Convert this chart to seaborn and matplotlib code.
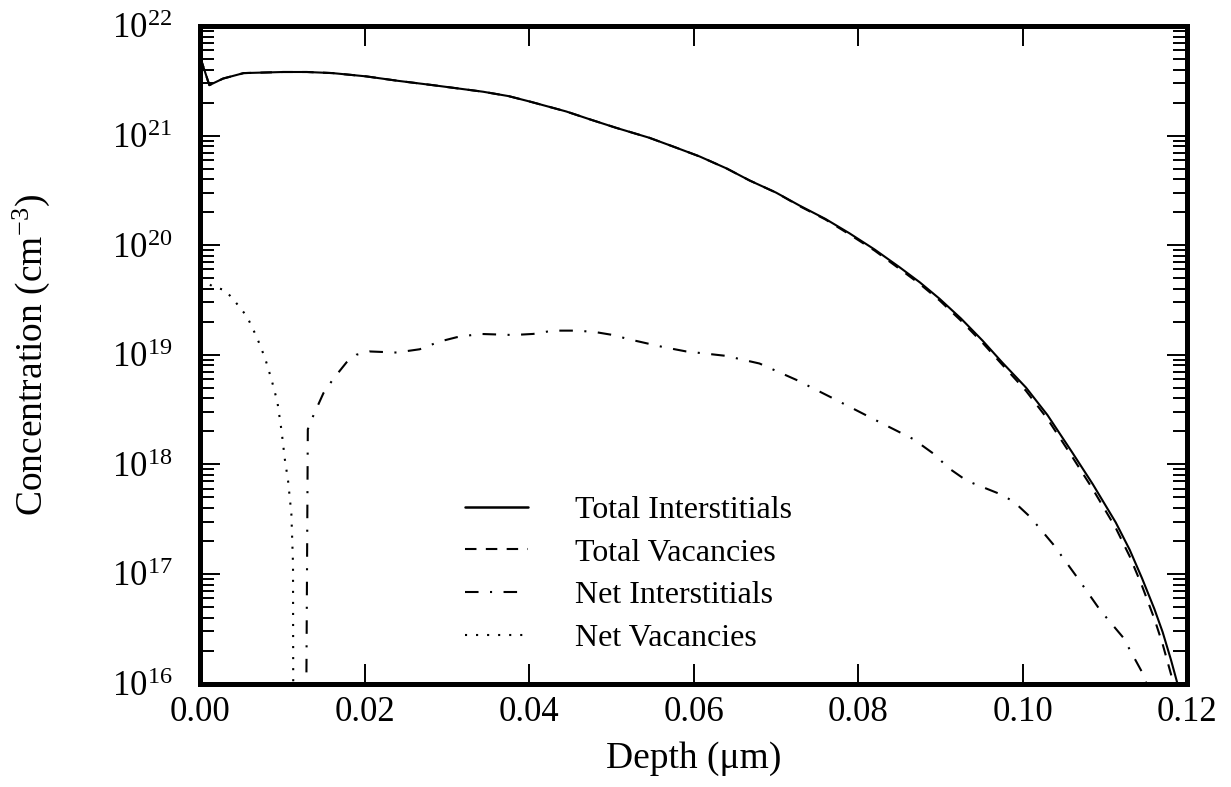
import numpy as np
import pandas as pd
import matplotlib
matplotlib.use("Agg")
import matplotlib.pyplot as plt
import seaborn as sns
from matplotlib.ticker import LogLocator, FuncFormatter, NullLocator
from matplotlib.lines import Line2D

# ---------------- data (depth in um, log10 of concentration in cm^-3) ----------------
x_ti = [0.0, 0.00113, 0.0028, 0.0053, 0.0101, 0.0130, 0.0161, 0.0202, 0.0240, 0.0283,
        0.0344, 0.0375, 0.0401, 0.0445, 0.0475, 0.0506, 0.0546, 0.0575, 0.0607, 0.0640,
        0.0668, 0.0700, 0.0729, 0.0760, 0.0789, 0.0820, 0.0850, 0.0875, 0.0899, 0.0925,
        0.0951, 0.0975, 0.1004, 0.1030, 0.1060, 0.1085, 0.1113, 0.1130, 0.1145, 0.1160,
        0.1170, 0.1180, 0.1188, 0.1195]
log_ti = [21.72, 21.46, 21.52, 21.57, 21.58, 21.58, 21.57, 21.54, 21.50, 21.46,
          21.40, 21.36, 21.31, 21.22, 21.145, 21.07, 20.98, 20.90, 20.81, 20.70,
          20.59, 20.48, 20.36, 20.24, 20.11, 19.96, 19.80, 19.66, 19.51, 19.33,
          19.13, 18.93, 18.70, 18.45, 18.11, 17.82, 17.47, 17.22, 16.96, 16.68,
          16.47, 16.22, 16.00, 15.75]

x_tv = [0.0, 0.00113, 0.0028, 0.0053, 0.0101, 0.0130, 0.0161, 0.0202, 0.0240, 0.0283,
        0.0344, 0.0375, 0.0401, 0.0445, 0.0475, 0.0506, 0.0546, 0.0575, 0.0607, 0.0640,
        0.0668, 0.0700, 0.0729, 0.0760, 0.0789, 0.0820, 0.0850, 0.0875, 0.0899, 0.0925,
        0.0951, 0.0975, 0.1004, 0.1030, 0.1060, 0.1085, 0.1113, 0.1130, 0.1145, 0.1160,
        0.1170, 0.1180, 0.1188, 0.1195]
log_tv = [21.72, 21.46, 21.52, 21.57, 21.58, 21.58, 21.57, 21.54, 21.50, 21.46,
          21.40, 21.36, 21.31, 21.22, 21.145, 21.07, 20.98, 20.90, 20.81, 20.70,
          20.59, 20.48, 20.355, 20.235, 20.10, 19.95, 19.785, 19.645, 19.495, 19.31,
          19.11, 18.91, 18.67, 18.415, 18.07, 17.775, 17.42, 17.16, 16.89, 16.59,
          16.36, 16.09, 15.86, 15.60]

x_ni = [0.01285, 0.0131, 0.0138, 0.0150, 0.0162, 0.0178, 0.0190, 0.0206, 0.0239, 0.0267,
        0.0291, 0.0312, 0.0340, 0.0381, 0.0405, 0.0429, 0.0454, 0.0478, 0.0502, 0.0522,
        0.0563, 0.0591, 0.0639, 0.0680, 0.0725, 0.0770, 0.0822, 0.0867, 0.0891, 0.0911,
        0.0932, 0.0972, 0.0989, 0.1009, 0.1037, 0.1066, 0.1094, 0.1122, 0.1146, 0.1160]
log_ni = [15.0, 18.32, 18.45, 18.65, 18.78, 18.93, 19.00, 19.03, 19.02, 19.05,
          19.12, 19.16, 19.19, 19.18, 19.19, 19.22, 19.22, 19.21, 19.18, 19.14,
          19.07, 19.03, 18.99, 18.92, 18.77, 18.60, 18.40, 18.23, 18.10, 17.96,
          17.85, 17.73, 17.66, 17.52, 17.27, 16.97, 16.67, 16.42, 16.09, 15.80]

x_nv = [0.0012, 0.0016, 0.0030, 0.0040, 0.0057, 0.0069, 0.0079, 0.0087, 0.0094, 0.0099,
        0.0103, 0.0107, 0.0111, 0.0113, 0.01135]
log_nv = [19.64, 19.62, 19.59, 19.51, 19.35, 19.16, 18.97, 18.77, 18.57, 18.31,
          18.05, 17.85, 17.55, 17.09, 15.00]

series_names = ["Total Interstitials", "Total Vacancies", "Net Interstitials", "Net Vacancies"]
x_ticks = [0.00, 0.02, 0.04, 0.06, 0.08, 0.10, 0.12]
x_tick_labels = ["0.00", "0.02", "0.04", "0.06", "0.08", "0.10", "0.12"]
y_decades = [16, 17, 18, 19, 20, 21, 22]

# ---------------- style ----------------
sns.set_style("ticks")
plt.rcParams["font.family"] = ["Liberation Serif", "DejaVu Serif"]
plt.rcParams["mathtext.fontset"] = "custom"
plt.rcParams["mathtext.rm"] = "Liberation Serif"
plt.rcParams["mathtext.it"] = "Liberation Serif:italic"
plt.rcParams["mathtext.bf"] = "Liberation Serif:bold"
for key in ["text.color", "axes.labelcolor", "xtick.color", "ytick.color", "axes.edgecolor"]:
    plt.rcParams[key] = "black"

frames = []
for name, xs, ls in zip(series_names, [x_ti, x_tv, x_ni, x_nv], [log_ti, log_tv, log_ni, log_nv]):
    frames.append(pd.DataFrame({"depth": xs, "conc": np.power(10.0, ls), "series": name}))
df = pd.concat(frames, ignore_index=True)

dash_map = {
    "Total Interstitials": "",
    "Total Vacancies": (5.5, 4.5),
    "Net Interstitials": (6.5, 5.5, 1.0, 5.5),
    "Net Vacancies": (1.0, 4.3),
}

fig = plt.figure(figsize=(12.31, 7.87), dpi=100)
ax = fig.add_axes([0.1625, 0.1315, 0.8020, 0.8355])

sns.lineplot(data=df, x="depth", y="conc", style="series", style_order=series_names,
             dashes=dash_map, color="black", linewidth=1.5, estimator=None, sort=False,
             ax=ax, legend=False)

ax.set_yscale("log")
ax.set_xlim(0.0, 0.12)
ax.set_ylim(10.0 ** y_decades[0], 10.0 ** y_decades[-1])

ax.set_xticks(x_ticks)
ax.set_xticklabels(x_tick_labels)
ax.xaxis.set_minor_locator(NullLocator())
ax.set_yticks([10.0 ** d for d in y_decades])
ax.yaxis.set_major_formatter(FuncFormatter(lambda v, p: r"$\mathregular{10^{%d}}$" % int(round(np.log10(v)))))
ax.yaxis.set_minor_locator(LogLocator(base=10, subs=np.arange(2, 10), numticks=50))
ax.yaxis.set_minor_formatter(FuncFormatter(lambda v, p: ""))

for sp in ax.spines.values():
    sp.set_linewidth(3.6)
    sp.set_color("black")
    sp.set_visible(True)

ax.tick_params(axis="both", which="both", direction="in", top=True, right=True, color="black",
               labelcolor="black")
ax.tick_params(axis="both", which="major", length=14.5, width=1.4, labelsize=25)
ax.tick_params(axis="y", which="minor", length=10, width=1.4)
ax.tick_params(axis="x", which="major", pad=9)
ax.tick_params(axis="y", which="major", pad=20)

ax.set_xlabel("Depth (\u03bcm)", fontsize=27, color="black")
ax.set_ylabel(r"Concentration (cm$^{\mathregular{-3}}$)", fontsize=27, color="black")
ax.xaxis.set_label_coords(0.5, -0.088)
ax.yaxis.set_label_coords(-0.150, 0.5)

handles = []
for name in series_names:
    d = dash_map[name]
    if d == "":
        h = Line2D([], [], color="black", linewidth=1.8, linestyle="-")
    else:
        h = Line2D([], [], color="black", linewidth=1.5, dashes=d)
    handles.append(h)
leg = ax.legend(handles, series_names, loc="upper left", bbox_to_anchor=(0.268, 0.286),
                frameon=False, fontsize=23, handlelength=1.97, handletextpad=1.5,
                borderpad=0.0, borderaxespad=0.0, labelspacing=0.42)
for t in leg.get_texts():
    t.set_color("black")

fig.savefig("out.png", dpi=100)
